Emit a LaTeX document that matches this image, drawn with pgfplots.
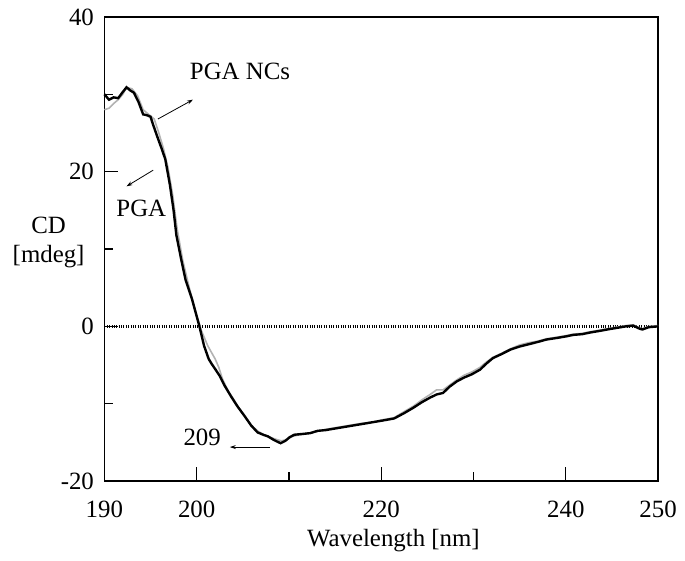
\documentclass[border=0pt]{standalone}
\usepackage{pgfplots}
\pgfplotsset{compat=1.18}
\usepackage{fontspec}
\setmainfont{Liberation Serif}
\usetikzlibrary{arrows.meta}
\begin{document}
\fontsize{25bp}{30bp}\selectfont
\begin{tikzpicture}
\begin{axis}[
  scale only axis, width=557bp, height=467bp,
  xmin=190, xmax=250, ymin=-20, ymax=40,
  xtick={190,200,220,240,250}, minor xtick={210,230},
  ytick={-20,0,20,40}, minor ytick={-10,10,30},
  tick align=inside, tick pos=left,
  major tick length=14bp, minor tick length=9bp,
  axis line style={line width=1.3bp},
  tick style={line width=1.3bp, black},
  minor tick style={line width=1.3bp, black},
  /pgf/number format/assume math mode=true,
  ticklabel style={font=\fontsize{25bp}{30bp}\selectfont},
  xticklabel style={yshift=-11bp},
  yticklabel style={xshift=-2bp},
  clip=false,
]
\addplot[black, line width=2.6bp, dash pattern=on 1bp off 1.4bp] coordinates {(190,0) (250,0)};
% gray (thin) curve
\addplot[gray!60, line width=1.6bp] coordinates {
(190.0,28.0) (190.5,28.2) (191.0,28.8) (191.5,29.3) (192.0,30.0) (192.4,30.9) (193.0,30.7) (193.6,29.8) (194.2,28.0) (194.8,27.4) (195.4,26.8) (195.9,25.0) (196.4,23.0) (196.9,20.5) (197.4,17.0) (197.9,12.5) (198.5,8.5) (199.2,5.0) (200.0,1.5) (200.5,-0.5) (201.2,-2.5) (202.0,-4.2) (202.4,-5.3) (202.8,-6.8) (203.4,-8.3) (204.0,-9.4) (204.6,-10.6) (205.3,-11.8) (206.0,-12.9) (206.7,-13.6) (207.3,-14.0) (207.9,-14.3) (208.6,-14.6) (209.2,-14.8) (209.8,-14.6) (210.4,-14.2) (211.2,-14.0) (212.0,-13.8) (213.0,-13.6) (214.0,-13.3) (215.0,-13.1) (216.0,-12.9) (217.0,-12.7) (218.0,-12.5) (219.0,-12.4) (220.0,-12.1) (221.4,-11.8) (222.5,-11.0) (223.5,-10.3) (224.4,-9.5) (225.3,-8.8) (226.0,-8.2) (226.7,-8.2) (227.4,-7.6) (228.2,-6.9) (229.0,-6.3) (229.8,-5.9) (230.7,-5.3) (231.4,-4.6) (232.1,-4.0) (233.0,-3.5) (234.0,-2.9) (235.0,-2.4) (236.0,-2.1) (237.0,-1.9) (237.9,-1.6) (239.0,-1.4) (240.0,-1.2) (240.8,-1.0) (241.8,-0.9) (242.6,-0.7) (243.6,-0.5) (244.5,-0.3) (245.5,-0.1) (246.5,0.1) (247.3,0.2) (248.0,-0.2) (248.3,-0.3) (249.0,0.0) (250.0,0.1)
};
% black (thick) curve
\addplot[black, line width=2.4bp] coordinates {
(190.0,30.0) (190.5,29.3) (191.0,29.6) (191.5,29.5) (192.0,30.3) (192.4,30.9) (192.8,30.5) (193.2,30.2) (193.7,29.0) (194.2,27.4) (194.6,27.3) (195.0,27.1) (195.3,26.0) (195.8,24.3) (196.2,23.0) (196.6,21.6) (197.1,18.3) (197.5,15.0) (197.8,11.8) (198.3,8.8) (198.8,6.0) (199.5,3.5) (200.3,0.0) (200.8,-2.5) (201.3,-4.2) (201.6,-4.8) (202.0,-5.5) (202.5,-6.4) (203.0,-7.6) (203.7,-9.0) (204.4,-10.3) (205.2,-11.6) (205.9,-12.8) (206.6,-13.7) (207.2,-14.0) (207.7,-14.2) (208.4,-14.7) (209.1,-15.1) (209.6,-14.8) (210.1,-14.3) (210.6,-14.0) (211.5,-13.9) (212.3,-13.8) (213.1,-13.5) (214.0,-13.4) (215.0,-13.2) (216.0,-13.0) (217.0,-12.8) (218.0,-12.6) (219.0,-12.4) (220.0,-12.2) (221.4,-11.9) (222.5,-11.2) (223.5,-10.5) (224.4,-9.8) (225.3,-9.2) (226.0,-8.8) (226.7,-8.6) (227.4,-7.8) (228.2,-7.1) (229.0,-6.6) (229.8,-6.2) (230.7,-5.6) (231.4,-4.8) (232.1,-4.1) (233.0,-3.6) (234.0,-3.0) (235.0,-2.6) (236.0,-2.3) (237.0,-2.0) (237.9,-1.7) (239.0,-1.5) (240.0,-1.3) (240.8,-1.1) (241.8,-1.0) (242.6,-0.8) (243.6,-0.6) (244.5,-0.4) (245.5,-0.2) (246.5,0.0) (247.3,0.1) (248.0,-0.3) (248.3,-0.4) (249.0,-0.1) (250.0,0.0)
};
% annotations
\node at (axis cs:204.7,32.9) {PGA NCs};
\draw[-{Stealth[length=6bp,width=4bp]}, line width=0.8bp] (axis cs:195.8,26.8) -- (axis cs:199.6,29.3);
\node at (axis cs:194.0,15.3) {PGA};
\draw[-{Stealth[length=6bp,width=4bp]}, line width=0.8bp] (axis cs:195.3,20.2) -- (axis cs:192.4,18.1);
\node at (axis cs:200.6,-14.3) {209};
\draw[-{Stealth[length=6bp,width=4bp]}, line width=0.8bp] (axis cs:207.9,-15.6) -- (axis cs:203.6,-15.6);
\node[align=center] at (rel axis cs:-0.1007,0.514) {CD\\{[mdeg]}};
\node at (rel axis cs:0.522,-0.128) {Wavelength [nm]};
\path (rel axis cs:0,0) ++(-105bp,-78bp) rectangle ++(685bp,562bp);
\end{axis}
\end{tikzpicture}
\end{document}
